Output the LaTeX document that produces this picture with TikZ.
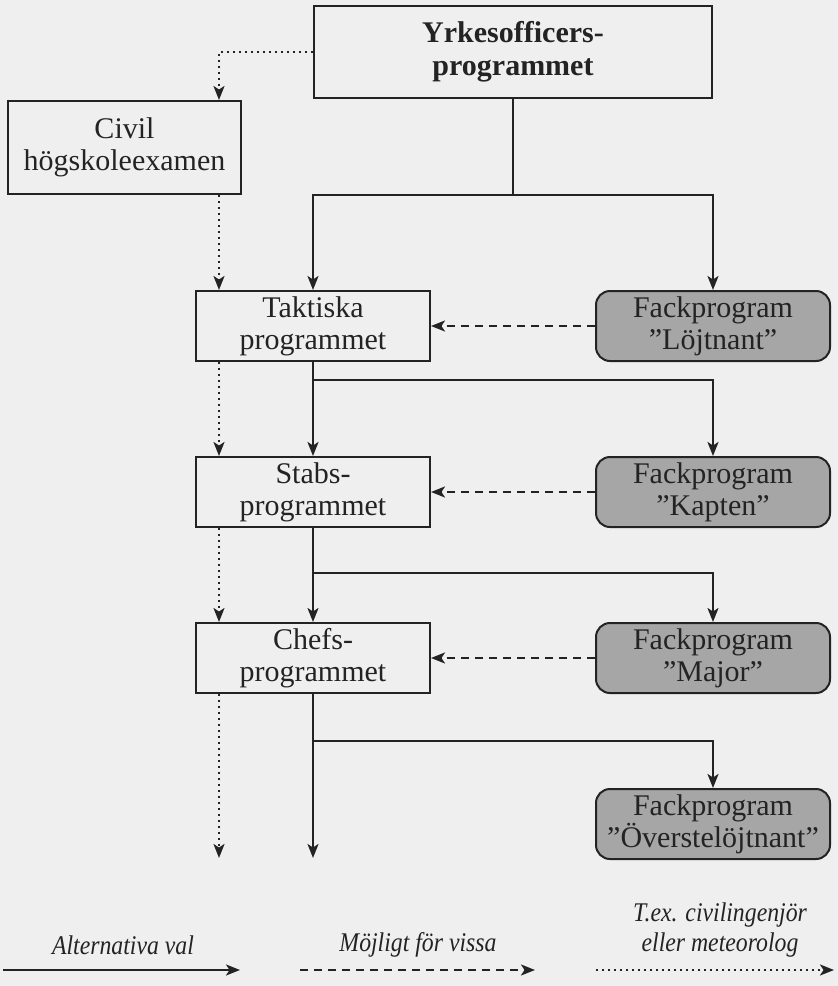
\documentclass[tikz,border=0pt]{standalone}
\usepackage{fontspec}
\setmainfont{Liberation Serif}
\usetikzlibrary{arrows.meta}
\definecolor{ink}{RGB}{35,35,35}
\definecolor{paper}{RGB}{239,239,239}
\definecolor{boxgrey}{RGB}{166,166,166}
\begin{document}
\begin{tikzpicture}[x=1pt,y=-1pt,
  arr/.style={-{Stealth[length=14pt,width=11pt,inset=3.5pt]}},
  conn/.style={draw=ink,line width=2pt},
  dashline/.style={conn,dash pattern=on 8pt off 6pt},
  dotline/.style={conn,dash pattern=on 2pt off 4pt},
  bbox/.style={draw=ink,line width=2pt,fill=paper,align=center,inner sep=0pt,
    minimum width=234pt,minimum height=70pt,text=ink,font=\fontsize{30}{32}\selectfont},
  gbox/.style={bbox,fill=boxgrey,rounded corners=14pt},
  legtext/.style={align=center,text=ink,inner sep=0pt,xscale=0.88,transform shape,
    font=\itshape\fontsize{27}{30}\selectfont}]
\fill[paper] (0,0) rectangle (838,986);
\useasboundingbox (0,0) rectangle (838,986);

\node[bbox,minimum width=398pt,minimum height=92pt,font=\bfseries\fontsize{30}{33}\selectfont] (top) at (513,52) {Yrkesofficers-\\programmet};
\node[bbox,minimum width=233pt,minimum height=93pt] (civil) at (124.5,147.5) {Civil\\högskoleexamen};
\node[bbox] (takt) at (313,326) {Taktiska\\programmet};
\node[bbox] (stabs) at (313,492) {Stabs-\\programmet};
\node[bbox] (chefs) at (313,658) {Chefs-\\programmet};
\node[gbox] (lojt) at (713,326) {Fackprogram\\”Löjtnant”};
\node[gbox] (kapt) at (713,492) {Fackprogram\\”Kapten”};
\node[gbox] (major) at (713,658) {Fackprogram\\”Major”};
\node[gbox] (overst) at (713,824) {Fackprogram\\”Överstelöjtnant”};

\coordinate (dx) at (219,0);
\coordinate (j0) at (513,195);
\coordinate (j1) at (313,380);
\coordinate (j2) at (313,573);
\coordinate (j3) at (313,741);
\coordinate (end1) at (219,858);
\coordinate (end2) at (313,858);

% dotted path
\draw[dotline,arr] (top.west) -| (civil.north -| dx);
\draw[dotline,arr] (civil.south -| dx) -- (takt.north -| dx);
\draw[dotline,arr] (takt.south -| dx) -- (stabs.north -| dx);
\draw[dotline,arr] (stabs.south -| dx) -- (chefs.north -| dx);
\draw[dotline,arr] (chefs.south -| dx) -- (end1);

% solid main path
\draw[conn] (top.south) -- (j0);
\draw[conn,arr] (j0) -| (takt.north);
\draw[conn,arr] (j0) -| (lojt.north);
\draw[conn,arr] (takt.south) -- (stabs.north);
\draw[conn,arr] (j1) -| (kapt.north);
\draw[conn,arr] (stabs.south) -- (chefs.north);
\draw[conn,arr] (j2) -| (major.north);
\draw[conn,arr] (chefs.south) -- (end2);
\draw[conn,arr] (j3) -| (overst.north);

% dashed
\draw[dashline,arr] (lojt.west) -- (takt.east);
\draw[dashline,arr] (kapt.west) -- (stabs.east);
\draw[dashline,arr] (major.west) -- (chefs.east);

% legend
\node[legtext] (l1) at (123,945) {Alternativa val};
\node[legtext] (l2) at (418,945) {Möjligt för vissa};
\node[legtext] (l3) at (720,930) {T.ex. civilingenjör\\eller meteorolog};
\coordinate (a1s) at (3,970);
\coordinate (a1e) at (240,970);
\coordinate (a2s) at (300,970);
\coordinate (a2e) at (535,970);
\coordinate (a3s) at (596,970);
\coordinate (a3e) at (834,970);
\draw[conn,arr] (a1s) -- (a1e);
\draw[dashline,arr] (a2s) -- (a2e);
\draw[dotline,arr] (a3s) -- (a3e);
\end{tikzpicture}
\end{document}
